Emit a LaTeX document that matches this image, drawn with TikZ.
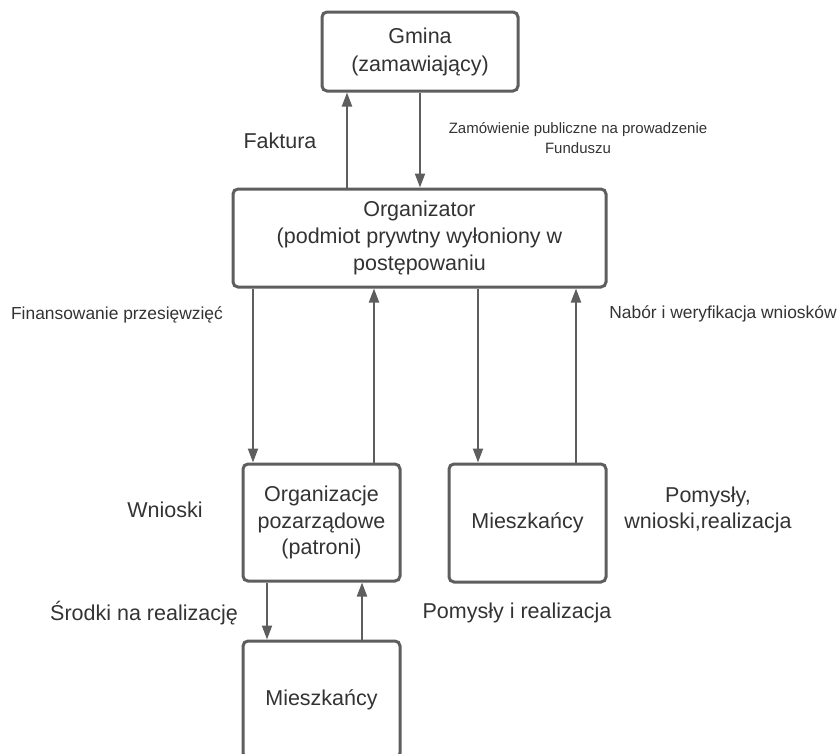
\documentclass[tikz,border=0pt]{standalone}
\usepackage{fontspec}
\setmainfont{Liberation Sans}
\usetikzlibrary{arrows.meta}
\definecolor{linec}{HTML}{5E5E5E}
\definecolor{txt}{HTML}{333333}
\begin{document}
\begin{tikzpicture}[x=1pt,y=-1pt,
 box/.style={draw=linec, line width=3pt, rounded corners=5pt, inner sep=0pt, align=center, text=txt, font=\fontsize{21.5}{25.8}\selectfont, fill=white},
 arr/.style={draw=linec, line width=2pt, -{Triangle[width=10pt,length=14pt]}},
 lbl/.style={text=txt, inner sep=0pt, align=center},
 big/.style={font=\fontsize{21.5}{25.8}\selectfont},
 mid/.style={font=\fontsize{17.4}{21}\selectfont},
 sml/.style={font=\fontsize{15}{19.5}\selectfont}]
\useasboundingbox (0,0) rectangle (838,753);
\clip (0,0) rectangle (838,753);
% boxes
\node[box, minimum width=196pt, minimum height=79pt, font=\fontsize{21.5}{28}\selectfont] (gmina) at (420,51.5) {Gmina\\(zamawiający)};
\node[box, minimum width=373pt, minimum height=98pt, font=\fontsize{21.5}{27}\selectfont] (org) at (419.5,238) {Organizator\\(podmiot prywtny wyłoniony w\\postępowaniu};
\node[box, minimum width=157pt, minimum height=117pt, font=\fontsize{21.5}{26.5}\selectfont] (ngo) at (321.5,522.5) {Organizacje\\pozarządowe\\(patroni)};
\node[box, minimum width=157pt, minimum height=118pt] (mr) at (527.5,523) {Mieszkańcy};
\node[box, minimum width=157pt, minimum height=117pt] (mb) at (321.5,699.5) {Mieszkańcy};
% x positions
\coordinate (x1) at (347,0);
\coordinate (x2) at (420,0);
\coordinate (x3) at (253,0);
\coordinate (x4) at (374,0);
\coordinate (x5) at (478,0);
\coordinate (x6) at (576,0);
\coordinate (x7) at (267,0);
\coordinate (x8) at (362,0);
% arrows
\draw[arr] (org.north -| x1) -- (gmina.south -| x1);
\draw[arr] (gmina.south -| x2) -- (org.north -| x2);
\draw[arr] (org.south -| x3) -- (ngo.north -| x3);
\draw[arr] (ngo.north -| x4) -- (org.south -| x4);
\draw[arr] (org.south -| x5) -- (mr.north -| x5);
\draw[arr] (mr.north -| x6) -- (org.south -| x6);
\draw[arr] (ngo.south -| x7) -- (mb.north -| x7);
\draw[arr] (mb.north -| x8) -- (ngo.south -| x8);
% labels
\node[lbl, big] (lfak) at (280,141) {Faktura};
\node[lbl, sml] (lzam) at (578,138) {Zamówienie publiczne na prowadzenie\\Funduszu};
\node[lbl, mid] (lfin) at (117,315) {Finansowanie przesięwzięć};
\node[lbl, mid] (lnab) at (723,314) {Nabór i weryfikacja wniosków};
\node[lbl, big] (lwn) at (165,510) {Wnioski};
\node[lbl, big] (lpom) at (708,510) {Pomysły,\\wnioski,realizacja};
\node[lbl, big] (lsro) at (144,613) {Środki na realizację};
\node[lbl, big] (lpir) at (517,613) {Pomysły i realizacja};
\end{tikzpicture}
\end{document}
